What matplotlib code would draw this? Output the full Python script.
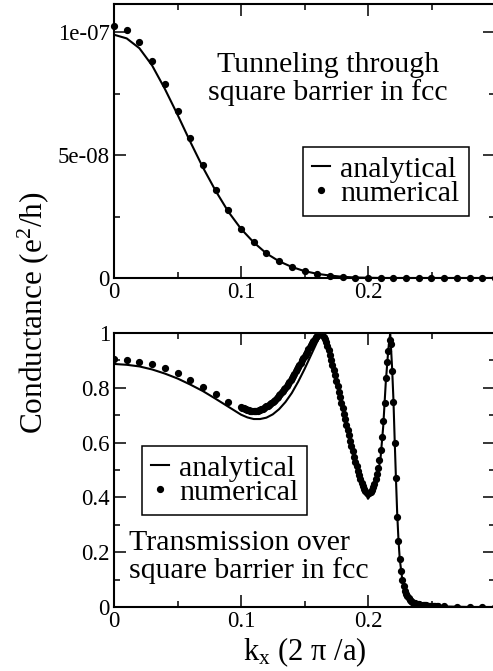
import numpy as np
import matplotlib
matplotlib.use('Agg')
import matplotlib.pyplot as plt
from matplotlib.ticker import MultipleLocator

plt.rcParams['font.family'] = ['Liberation Serif', 'DejaVu Serif']
plt.rcParams['mathtext.fontset'] = 'custom'
plt.rcParams['mathtext.rm'] = 'Liberation Serif'
plt.rcParams['mathtext.it'] = 'Liberation Serif:italic'

# ---- top panel: tunneling (units of 1e-7 e^2/h), k_x step 0.01 from 0 to 0.30
kx_top = np.round(np.arange(31) * 0.01, 3)
tun_analytical = [0.99, 0.975, 0.935, 0.865, 0.77, 0.665, 0.555, 0.45, 0.355, 0.27,
                  0.20, 0.145, 0.10, 0.068, 0.045, 0.028, 0.017, 0.01, 0.005, 0.002,
                  0.001, 0, 0, 0, 0, 0, 0, 0, 0, 0, 0]
tun_numerical = [1.025, 1.01, 0.96, 0.885, 0.79, 0.68, 0.57, 0.46, 0.36, 0.275,
                 0.20, 0.145, 0.10, 0.07, 0.045, 0.028, 0.016, 0.009, 0.005, 0.002,
                 0, 0, 0, 0, 0, 0, 0, 0, 0, 0, 0]

# ---- bottom panel: transmission over barrier
kx_ana = [0, 0.01, 0.02, 0.03, 0.04, 0.05, 0.06, 0.07, 0.08, 0.09, 0.10, 0.105, 0.11,
          0.115, 0.12, 0.125, 0.13, 0.135, 0.14, 0.145, 0.15, 0.155, 0.16, 0.163, 0.166,
          0.17, 0.175, 0.18, 0.185, 0.19, 0.195, 0.2, 0.205, 0.208, 0.21, 0.212, 0.214,
          0.216, 0.2175, 0.219, 0.22, 0.221, 0.222, 0.223, 0.224, 0.225, 0.227, 0.229,
          0.232, 0.235, 0.24, 0.25, 0.26, 0.28, 0.3]
tr_analytical = [0.887, 0.884, 0.878, 0.867, 0.852, 0.834, 0.812, 0.788, 0.760, 0.731,
                 0.702, 0.692, 0.686, 0.686, 0.691, 0.703, 0.722, 0.748, 0.781, 0.822,
                 0.868, 0.918, 0.968, 0.995, 0.985, 0.925, 0.835, 0.735, 0.630, 0.530,
                 0.445, 0.395, 0.43, 0.49, 0.55, 0.66, 0.82, 0.94, 1.0, 0.87, 0.76, 0.61,
                 0.47, 0.34, 0.245, 0.175, 0.10, 0.062, 0.033, 0.02, 0.01, 0.004, 0.002,
                 0, 0]

tr_num_coarse_lo = [0.905, 0.901, 0.895, 0.886, 0.871, 0.853, 0.828, 0.804, 0.776, 0.749]  # 0 .. 0.09
tr_num_dense = [  # 0.100 .. 0.255, step 0.001
    0.731, 0.728, 0.725, 0.723, 0.721, 0.719, 0.718, 0.717, 0.716, 0.716, 0.716, 0.716,
    0.716, 0.717, 0.718, 0.720, 0.722, 0.724, 0.727, 0.729, 0.732, 0.735,
    0.738, 0.741, 0.745, 0.749, 0.753, 0.757, 0.762, 0.767, 0.772, 0.777,
    0.783, 0.789, 0.795, 0.801, 0.808, 0.815, 0.822, 0.829, 0.836, 0.844,
    0.852, 0.860, 0.868, 0.876, 0.884, 0.892, 0.900, 0.908, 0.916, 0.924,
    0.932, 0.940, 0.948, 0.956, 0.963, 0.970, 0.977, 0.984, 0.990, 0.995,
    0.999, 0.998, 0.994, 0.987, 0.978, 0.967, 0.953, 0.937, 0.920, 0.902,
    0.883, 0.864, 0.845, 0.826, 0.806, 0.786, 0.766, 0.746, 0.726, 0.706,
    0.686, 0.666, 0.646, 0.626, 0.606, 0.587, 0.568, 0.549, 0.531, 0.514,
    0.497, 0.481, 0.466, 0.452, 0.440, 0.430, 0.422, 0.417, 0.415, 0.416,
    0.420, 0.427, 0.437, 0.450, 0.466, 0.485,
    0.507, 0.538, 0.573, 0.620, 0.680, 0.745, 0.835, 0.895, 0.935, 0.975,
    0.96, 0.86, 0.75, 0.60, 0.47, 0.33, 0.24, 0.175, 0.13, 0.10,
    0.077, 0.06, 0.048, 0.039, 0.032, 0.027, 0.022, 0.019, 0.016, 0.014,
    0.012, 0.011, 0.010, 0.009, 0.008, 0.007, 0.007, 0.006, 0.006, 0.005,
    0.005, 0.005, 0.004, 0.004, 0.004, 0.003, 0.003, 0.003]
tr_num_coarse_hi = [0.002, 0.001, 0, 0, 0]  # 0.26 .. 0.30
assert len(tr_num_dense) == 156

kx_num = np.concatenate([np.round(np.arange(10) * 0.01, 3),
                         np.round(0.1 + np.arange(len(tr_num_dense)) * 0.001, 3),
                         np.round(0.26 + np.arange(5) * 0.01, 3)])
tr_numerical = np.array(tr_num_coarse_lo + tr_num_dense + tr_num_coarse_hi)

W, H = 493, 671
fig = plt.figure(figsize=(W / 100, H / 100), dpi=100)
ax1 = fig.add_axes([114 / W, 1 - 278 / H, 381 / W, 274 / H])
ax2 = fig.add_axes([114 / W, 1 - 607 / H, 381 / W, 274 / H])

for ax in (ax1, ax2):
    ax.set_xlim(0, 0.3)
    ax.set_xticks([0, 0.1, 0.2])
    ax.set_xticklabels(['0', '0.1', '0.2'])
    ax.xaxis.set_minor_locator(MultipleLocator(0.05))
    ax.tick_params(which='both', direction='in', top=True, right=True,
                   width=1.1, labelsize=16.5, pad=3)
    ax.tick_params(which='major', length=8.6)
    ax.tick_params(which='minor', length=4.3)
    for s in ax.spines.values():
        s.set_linewidth(1.5)

leg_kw = dict(borderaxespad=0, fontsize=21.5, frameon=True, fancybox=False,
              framealpha=1, edgecolor='black', handlelength=0.6,
              handletextpad=0.35, borderpad=0.3, labelspacing=-0.1, numpoints=1)

# top panel
ax1.plot(kx_top, np.array(tun_analytical) * 1e-7, color='black', lw=1.5, label='analytical')
ax1.plot(kx_top, np.array(tun_numerical) * 1e-7, 'o', color='black', ms=4.2,
         label='numerical', clip_on=False)
ax1.set_ylim(0, 1.115e-7)
ax1.set_yticks([0, 5e-8, 1e-7])
ax1.set_yticklabels(['0', '5e-08', '1e-07'])
ax1.yaxis.set_minor_locator(MultipleLocator(2.5e-8))
ax1.text(0.562, 0.752, 'Tunneling through', transform=ax1.transAxes,
         ha='center', va='baseline', fontsize=21.5)
ax1.text(0.562, 0.650, 'square barrier in fcc', transform=ax1.transAxes,
         ha='center', va='baseline', fontsize=21.5)
leg1 = ax1.legend(loc='upper left', bbox_to_anchor=(0.496, 0.478), **leg_kw)
leg1.get_frame().set_linewidth(1.1)

# bottom panel
ax2.plot(kx_ana, tr_analytical, color='black', lw=1.5, label='analytical')
ax2.plot(kx_num, tr_numerical, 'o', color='black', ms=4.2, label='numerical')
ax2.set_ylim(0, 1)
ax2.set_yticks([0, 0.2, 0.4, 0.6, 0.8, 1.0])
ax2.set_yticklabels(['0', '0.2', '0.4', '0.6', '0.8', '1'])
ax2.yaxis.set_minor_locator(MultipleLocator(0.1))
ax2.text(0.039, 0.208, 'Transmission over', transform=ax2.transAxes,
         ha='left', va='baseline', fontsize=21.5)
ax2.text(0.039, 0.106, 'square barrier in fcc', transform=ax2.transAxes,
         ha='left', va='baseline', fontsize=21.5)
leg2 = ax2.legend(loc='upper left', bbox_to_anchor=(0.073, 0.588), **leg_kw)
leg2.get_frame().set_linewidth(1.1)

ax2.set_xlabel(r'k$_{\mathrm{x}}$ (2 π /a)', fontsize=22, labelpad=2)
fig.text(33 / W, 1 - 313 / H, r'Conductance (e$^{2}$/h)', rotation=90,
         ha='center', va='center', fontsize=22.5)

fig.savefig('out.png', dpi=100)
